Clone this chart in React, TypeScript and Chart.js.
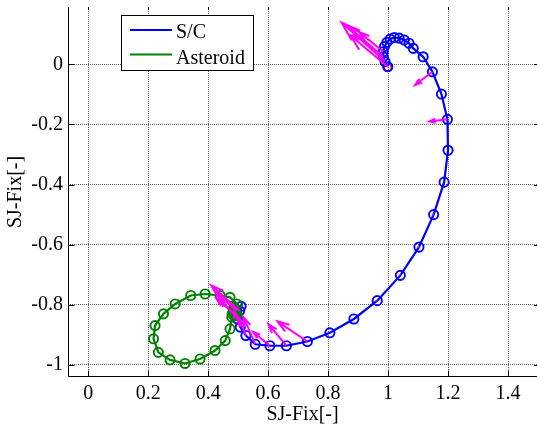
import React, { useEffect, useRef } from 'react';
import { Chart, registerables } from 'chart.js';

Chart.register(...registerables);

// S/C trajectory (SJ-Fix frame)
const scX = [0.999, 0.990, 0.984, 0.984, 0.988, 0.996, 1.007, 1.021, 1.037, 1.054, 1.070, 1.084, 1.117, 1.148, 1.178, 1.198, 1.200, 1.187, 1.152, 1.103, 1.041, 0.964, 0.886, 0.806, 0.731, 0.661, 0.606, 0.557, 0.526, 0.507, 0.498, 0.505, 0.510, 0.495];
const scY = [-0.008, 0.009, 0.025, 0.042, 0.059, 0.073, 0.084, 0.089, 0.087, 0.081, 0.070, 0.053, 0.025, -0.025, -0.099, -0.183, -0.286, -0.392, -0.500, -0.608, -0.702, -0.786, -0.847, -0.893, -0.922, -0.936, -0.936, -0.931, -0.902, -0.874, -0.847, -0.820, -0.805, -0.820];

// Asteroid trajectory (SJ-Fix frame)
const astX = [0.490, 0.485, 0.495, 0.490, 0.485, 0.496, 0.473, 0.440, 0.390, 0.342, 0.290, 0.251, 0.223, 0.218, 0.234, 0.273, 0.323, 0.373, 0.423, 0.457, 0.473, 0.479, 0.484, 0.490, 0.495, 0.488, 0.480];
const astY = [-0.830, -0.825, -0.835, -0.820, -0.810, -0.797, -0.775, -0.769, -0.764, -0.769, -0.797, -0.830, -0.869, -0.913, -0.958, -0.983, -0.995, -0.980, -0.952, -0.919, -0.880, -0.841, -0.820, -0.825, -0.830, -0.835, -0.830];

// start marker
const startX = [0.999];
const startY = [-0.011];

// quiver arrows: origin (x, y) and vector (u, v)
const arrowX = [0.999, 0.990, 0.984, 0.984, 1.148, 1.198, 1.152, 1.103, 1.041, 0.964, 0.731, 0.661, 0.606, 0.557, 0.526, 0.507, 0.498, 0.505, 0.495, 0.488];
const arrowY = [-0.008, 0.009, 0.025, 0.042, -0.025, -0.183, -0.500, -0.608, -0.702, -0.786, -0.922, -0.936, -0.936, -0.931, -0.902, -0.874, -0.847, -0.820, -0.820, -0.830];
const arrowU = [-0.125, -0.145, -0.110, -0.080, -0.058, -0.060, -0.004, -0.003, -0.003, -0.003, -0.100, -0.060, -0.056, -0.039, -0.025, -0.020, -0.060, -0.095, -0.070, -0.060];
const arrowV = [0.105, 0.130, 0.095, 0.065, -0.044, -0.007, 0.001, 0.002, 0.002, 0.002, 0.067, 0.072, 0.046, 0.090, 0.060, 0.050, 0.070, 0.085, 0.060, 0.050];

const xTickValues = [0, 0.2, 0.4, 0.6, 0.8, 1.0, 1.2, 1.4];
const xTickLabels = ['0', '0.2', '0.4', '0.6', '0.8', '1', '1.2', '1.4'];
const yTickValues = [-1, -0.8, -0.6, -0.4, -0.2, 0];
const yTickLabels = ['-1', '-0.8', '-0.6', '-0.4', '-0.2', '0'];

const seriesLabels = ['S/C', 'Asteroid'];
const axisTitle = 'SJ-Fix[-]';

const FONT = "'Liberation Serif', 'Times New Roman', serif";
const BLUE = '#0000ff';
const GREEN = '#008000';
const MAGENTA = '#ff00ff';

function zip(xs: number[], ys: number[]) {
  return xs.map((x, i) => ({ x, y: ys[i] }));
}

function buildArrows() {
  const alpha = 0.33;
  const beta = 0.33;
  const pts: { x: number; y: number }[] = [];
  const gap = { x: NaN, y: NaN };
  for (let i = 0; i < arrowX.length; i++) {
    const x = arrowX[i], y = arrowY[i], u = arrowU[i], v = arrowV[i];
    const tx = x + u, ty = y + v;
    pts.push({ x, y }, { x: tx, y: ty }, gap);
    pts.push(
      { x: tx - alpha * (u + beta * v), y: ty - alpha * (v - beta * u) },
      { x: tx, y: ty },
      { x: tx - alpha * (u - beta * v), y: ty - alpha * (v + beta * u) },
      gap
    );
  }
  return pts;
}

const framePlugin = {
  id: 'matlabFrame',
  afterDatasetsDraw(chart: any) {
    const { ctx, chartArea: a, scales } = chart;
    const xs = scales.x, ys = scales.y;
    ctx.save();
    ctx.setLineDash([]);
    ctx.strokeStyle = '#000';
    ctx.lineWidth = 1;
    const L = Math.round(a.left) + 0.5;
    const B = Math.round(a.bottom) - 0.5;
    ctx.beginPath();
    ctx.moveTo(L, a.top);
    ctx.lineTo(L, B);
    ctx.lineTo(a.right, B);
    xTickValues.forEach((v) => {
      const px = Math.round(xs.getPixelForValue(v)) + 0.5;
      ctx.moveTo(px, B);
      ctx.lineTo(px, B - 6);
      ctx.moveTo(px, a.top);
      ctx.lineTo(px, a.top + 3);
    });
    yTickValues.forEach((v) => {
      const py = Math.round(ys.getPixelForValue(v)) + 0.5;
      ctx.moveTo(L, py);
      ctx.lineTo(L + 6, py);
      ctx.moveTo(a.right, py);
      ctx.lineTo(a.right - 3, py);
    });
    ctx.stroke();
    ctx.restore();
  },
};

const legendPlugin = {
  id: 'matlabLegend',
  afterDraw(chart: any) {
    const { ctx } = chart;
    const colors = [BLUE, GREEN];
    ctx.save();
    ctx.setLineDash([]);
    ctx.fillStyle = '#fff';
    ctx.strokeStyle = '#000';
    ctx.lineWidth = 1;
    ctx.fillRect(121.5, 15.5, 132, 55);
    ctx.strokeRect(121.5, 15.5, 132, 55);
    seriesLabels.forEach((lab, i) => {
      const ly = 30 + i * 24.5;
      ctx.strokeStyle = colors[i];
      ctx.lineWidth = 2;
      ctx.beginPath();
      ctx.moveTo(130, ly);
      ctx.lineTo(172, ly);
      ctx.stroke();
      ctx.fillStyle = '#000';
      ctx.font = `20px ${FONT}`;
      ctx.textBaseline = 'alphabetic';
      ctx.textAlign = 'left';
      ctx.fillText(lab, 176, 37.5 + i * 26.5);
    });
    ctx.restore();
  },
};

function zeroPadding(s: any) {
  s.paddingTop = 0;
  s.paddingBottom = 0;
  s.paddingLeft = 0;
  s.paddingRight = 0;
}

export default function App() {
  const ref = useRef<HTMLCanvasElement>(null);
  useEffect(() => {
    if (!ref.current) return;
    Chart.defaults.font.family = FONT;
    Chart.defaults.font.size = 20;
    Chart.defaults.color = '#000';
    const gridOpts = {
      display: true,
      drawTicks: false,
      color: '#666',
      lineWidth: 1,
    };
    const chart = new Chart(ref.current, {
      type: 'scatter',
      data: {
        datasets: [
          {
            label: 'quiver',
            type: 'line',
            data: buildArrows(),
            borderColor: MAGENTA,
            borderWidth: 2,
            pointRadius: 0,
            showLine: true,
            spanGaps: false,
            order: 0,
          } as any,
          {
            label: seriesLabels[1],
            data: zip(astX, astY),
            showLine: true,
            borderColor: GREEN,
            borderWidth: 2.2,
            pointRadius: 4.6,
            pointBorderWidth: 1.9,
            pointBorderColor: GREEN,
            pointBackgroundColor: 'rgba(0,0,0,0)',
            order: 1,
          },
          {
            label: 'start',
            data: zip(startX, startY),
            borderColor: '#ff0000',
            pointRadius: 3.5,
            pointBorderWidth: 1.5,
            pointBorderColor: '#ff0000',
            pointBackgroundColor: 'rgba(0,0,0,0)',
            order: 3,
          },
          {
            label: seriesLabels[0],
            data: zip(scX, scY),
            showLine: true,
            borderColor: BLUE,
            borderWidth: 2.2,
            pointRadius: 4.6,
            pointBorderWidth: 1.9,
            pointBorderColor: BLUE,
            pointBackgroundColor: 'rgba(0,0,0,0)',
            order: 2,
          },
        ],
      },
      options: {
        responsive: false,
        animation: false,
        devicePixelRatio: 1,
        layout: { autoPadding: false, padding: { top: 7, right: 0, left: 0, bottom: 0 } },
        plugins: { legend: { display: false }, tooltip: { enabled: false } },
        scales: {
          x: {
            type: 'linear',
            bounds: 'data',
            min: -0.0673,
            max: 1.4967,
            afterFit: (s: any) => { s.height = 53; zeroPadding(s); },
            afterBuildTicks: (s: any) => { s.ticks = xTickValues.map((v) => ({ value: v })); },
            ticks: {
              includeBounds: false,
              padding: 5,
              maxRotation: 0,
              autoSkip: false,
              callback: (v: any, i: number) => xTickLabels[i],
            },
            grid: gridOpts,
            border: { display: false, dash: [1, 1] },
            title: { display: true, text: axisTitle, padding: { top: 0, bottom: 3 } },
          },
          y: {
            type: 'linear',
            bounds: 'data',
            min: -1.040,
            max: 0.1906,
            afterFit: (s: any) => { s.width = 68; zeroPadding(s); },
            afterBuildTicks: (s: any) => { s.ticks = yTickValues.map((v) => ({ value: v })); },
            ticks: {
              includeBounds: false,
              padding: 5,
              autoSkip: false,
              callback: (v: any, i: number) => yTickLabels[i],
            },
            grid: gridOpts,
            border: { display: false, dash: [1, 1] },
            title: { display: true, text: axisTitle, padding: { top: 4, bottom: 0 } },
          },
        },
      } as any,
      plugins: [framePlugin, legendPlugin],
    });
    return () => chart.destroy();
  }, []);
  return (
    <div style={{ position: 'fixed', left: 0, top: 0, width: 537, height: 430, background: '#fff' }}>
      <canvas ref={ref} width={537} height={430} style={{ width: 537, height: 430, display: 'block' }} />
    </div>
  );
}
